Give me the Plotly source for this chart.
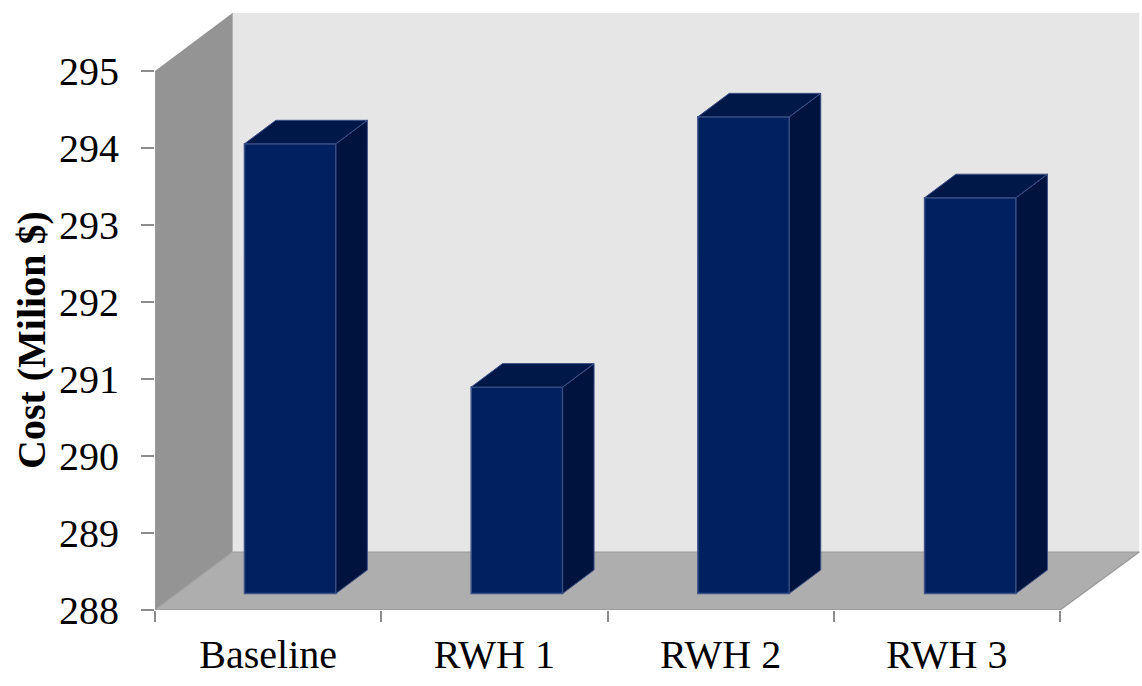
import plotly.graph_objects as go

categories = ["Baseline", "RWH 1", "RWH 2", "RWH 3"]
costs = [293.84, 290.68, 294.19, 293.14]
y_ticks = [288, 289, 290, 291, 292, 293, 294, 295]

W, H = 1142, 686
LEFT, RIGHT_FRONT, BOTTOM, TOP_FRONT = 155, 1060, 610, 71
PX_X = (RIGHT_FRONT - LEFT) / len(categories)
PX_Y = (BOTTOM - TOP_FRONT) / (y_ticks[-1] - y_ticks[0])
DEPTH_X = 77.5 / PX_X          # depth of the 3D box, in x units
BACK_EXTRA = 1.8 / PX_X        # slight perspective widening of the back wall
DEPTH_Y = 58 / PX_Y            # depth of the 3D box, in y units
BAR_NEAR, BAR_FAR = 0.285, 0.69 # bar position within the depth
BAR_W = 91.5 / PX_X
BAR_PITCH = 226.7 / PX_X
Y0, Y1 = y_ticks[0], y_ticks[-1]
X_MAX = len(categories)
BACK_R = X_MAX + DEPTH_X + BACK_EXTRA
X_RANGE = [0, BACK_R + 0.005]
Y_RANGE = [Y0, Y1 + DEPTH_Y]

def path(pts):
    return "M" + " L".join(f"{x},{y}" for x, y in pts) + " Z"

def seg(x0, y0, x1, y1, color="#9a9a9a", width=1.6):
    return dict(type="line", layer="below", xref="x", yref="y", x0=x0, y0=y0, x1=x1, y1=y1,
                line=dict(color=color, width=width))

def poly(pts, fill, line="rgba(0,0,0,0)", width=0):
    return dict(type="path", layer="below", xref="x", yref="y", path=path(pts),
                fillcolor=fill, line=dict(color=line, width=width))

shapes = [
    poly([(DEPTH_X, Y0 + DEPTH_Y), (BACK_R, Y0 + DEPTH_Y), (BACK_R, Y1 + DEPTH_Y), (DEPTH_X, Y1 + DEPTH_Y)], "#e6e6e6"),
    poly([(0, Y0), (DEPTH_X, Y0 + DEPTH_Y), (DEPTH_X, Y1 + DEPTH_Y), (0, Y1)], "#949494"),
    poly([(0, Y0), (X_MAX, Y0), (BACK_R, Y0 + DEPTH_Y), (DEPTH_X, Y0 + DEPTH_Y)], "#aeaeae"),
    seg(0, Y0, 0, Y1),
    seg(0, Y0, X_MAX, Y0),
    seg(0, Y0, DEPTH_X, Y0 + DEPTH_Y, "#a2a2a2", 1.2),
    seg(DEPTH_X, Y0 + DEPTH_Y, BACK_R, Y0 + DEPTH_Y, "#9a9a9a", 1.2),
    seg(X_MAX, Y0, BACK_R, Y0 + DEPTH_Y, "#9a9a9a", 1.4),
    seg(DEPTH_X, Y0 + DEPTH_Y, DEPTH_X, Y1 + DEPTH_Y, "#b4b4b4", 1),
]

near_dx, near_dy = BAR_NEAR * DEPTH_X, BAR_NEAR * DEPTH_Y
far_dx, far_dy = BAR_FAR * DEPTH_X, BAR_FAR * DEPTH_Y
centers = [0.5 + i * BAR_PITCH + near_dx for i in range(len(categories))]
EDGE = "#3d5288"

fig = go.Figure()
fig.add_trace(go.Bar(
    x=centers,
    y=[v - Y0 for v in costs],
    base=[Y0 + near_dy] * len(costs),
    width=BAR_W,
    marker=dict(color="#002060", line=dict(color=EDGE, width=1.5)),
    hoverinfo="skip",
))
for c, v in zip(centers, costs):
    l, r = c - BAR_W / 2, c + BAR_W / 2
    top = v + near_dy
    base = Y0 + near_dy
    d_x, d_y = far_dx - near_dx, far_dy - near_dy
    fig.add_trace(go.Scatter(
        x=[r, r + d_x, r + d_x, r, r], y=[base, base + d_y, top + d_y, top, base],
        mode="lines", fill="toself", fillcolor="#00133f", line=dict(color=EDGE, width=1), hoverinfo="skip"))
    fig.add_trace(go.Scatter(
        x=[l, r, r + d_x, l + d_x, l], y=[top, top, top + d_y, top + d_y, top],
        mode="lines", fill="toself", fillcolor="#001848", line=dict(color=EDGE, width=1), hoverinfo="skip"))

FONT = "Liberation Serif"
fig.update_layout(
    width=W, height=H, showlegend=False, template=None,
    margin=dict(l=0, r=0, t=0, b=0),
    paper_bgcolor="white", plot_bgcolor="rgba(0,0,0,0)",
    font=dict(family=FONT, size=40, color="black"),
    shapes=shapes,
    xaxis=dict(
        domain=[LEFT / W, (LEFT + (X_RANGE[1]) * PX_X) / W],
        range=X_RANGE, showgrid=False, zeroline=False, showline=False,
        tickmode="array", tickvals=[i + 0.5 for i in range(len(categories))], ticktext=categories,
        ticks="", ticklabelstandoff=17,
        minor=dict(tickmode="array", tickvals=list(range(X_MAX + 1)), ticks="outside", ticklen=11,
                   tickcolor="#8c8c8c", tickwidth=1.6, showgrid=False),
        tickfont=dict(family=FONT, size=40, color="black"),
    ),
    yaxis=dict(
        domain=[1 - (BOTTOM + 0) / H, 1 - (BOTTOM - (Y_RANGE[1] - Y0) * PX_Y) / H],
        range=Y_RANGE, showgrid=False, zeroline=False, showline=False,
        tickmode="array", tickvals=y_ticks, ticks="outside", ticklen=13,
        tickcolor="#8c8c8c", tickwidth=1.6, ticklabelstandoff=14,
        tickfont=dict(family=FONT, size=40, color="black"),
    ),
    annotations=[dict(text="<b>Cost (Milion $)</b>", xref="paper", yref="paper",
                      x=31 / W, y=1 - 340 / H, showarrow=False, textangle=-90,
                      xanchor="center", yanchor="middle",
                      font=dict(family=FONT, size=40, color="black"))],
)
fig.write_html("out.html", post_script="document.body.style.margin='0';",
               config=dict(displayModeBar=False))
